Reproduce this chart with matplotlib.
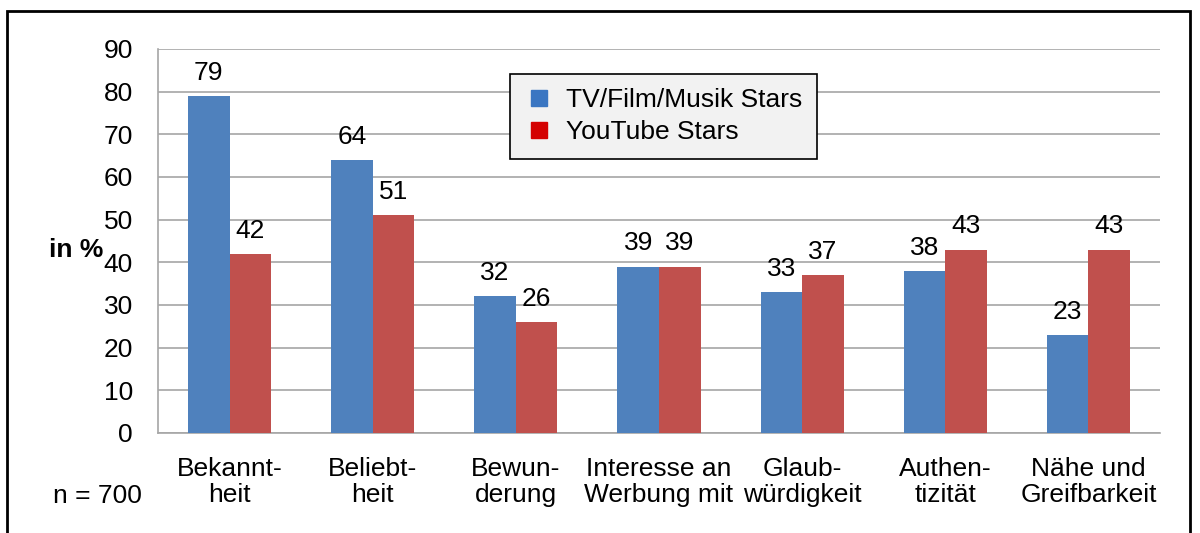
import matplotlib.pyplot as plt
import numpy as np
from matplotlib.lines import Line2D
from matplotlib.patches import Rectangle

plt.rcParams['font.family'] = ['Liberation Sans', 'DejaVu Sans']

categories = ['Bekannt-\nheit', 'Beliebt-\nheit', 'Bewun-\nderung',
              'Interesse an\nWerbung mit', 'Glaub-\nwürdigkeit',
              'Authen-\ntizität', 'Nähe und\nGreifbarkeit']
tv_stars = [79, 64, 32, 39, 33, 38, 23]
youtube_stars = [42, 51, 26, 39, 37, 43, 43]
series_names = ['TV/Film/Musik Stars', 'YouTube Stars']

fs = 19
fig = plt.figure(figsize=(12, 5.33), dpi=100)
ax = fig.add_axes([158 / 1200, 1 - 433 / 533, 1002 / 1200, 384 / 533])

x = np.arange(len(categories))
w = 0.29
b1 = ax.bar(x - w / 2, tv_stars, w, color='#4f81bd', zorder=3)
b2 = ax.bar(x + w / 2, youtube_stars, w, color='#c0504d', zorder=3)
ax.bar_label(b1, padding=8, fontsize=fs)
ax.bar_label(b2, padding=8, fontsize=fs)

ax.set_xlim(-0.5, len(categories) - 0.5)
ax.set_ylim(0, 90)
ax.set_yticks(range(0, 91, 10))
ax.set_xticks(x)
ax.set_xticklabels(categories, fontsize=fs, linespacing=1.15)
ax.tick_params(axis='y', labelsize=fs, length=0, pad=18)
ax.tick_params(axis='x', length=0, pad=17)
ax.yaxis.grid(True, color='#a6a6a6', linewidth=1.2, zorder=0)
for s in ['top', 'right']:
    ax.spines[s].set_visible(False)
for s in ['left', 'bottom']:
    ax.spines[s].set_color('#a6a6a6')
    ax.spines[s].set_linewidth(1.2)

fig.text(76 / 1200, 1 - 250 / 533, 'in %', fontsize=fs, fontweight='bold',
         ha='center', va='center')
fig.text(97 / 1200, 1 - 496 / 533, 'n = 700', fontsize=fs, ha='center', va='center')

handles = [Line2D([], [], marker='s', linestyle='none', color='#3a76c2', markersize=11),
           Line2D([], [], marker='s', linestyle='none', color='#d40000', markersize=11)]
leg = ax.legend(handles, series_names, loc='upper left', bbox_to_anchor=(0.351, 0.935),
                fontsize=fs, frameon=True, fancybox=False, handletextpad=0.5,
                handlelength=1.1, borderpad=0.55, labelspacing=0.3, borderaxespad=0)
leg.get_frame().set_facecolor('#f2f2f2')
leg.get_frame().set_edgecolor('black')
leg.get_frame().set_linewidth(1.2)
leg.get_frame().set_alpha(1)
leg.set_zorder(5)

fig.patches.append(Rectangle((7 / 1200, -0.05), 1183 / 1200, 1 - 11 / 533 + 0.05,
                             transform=fig.transFigure, fill=False,
                             edgecolor='black', linewidth=2))

fig.savefig('out.png', dpi=100)
